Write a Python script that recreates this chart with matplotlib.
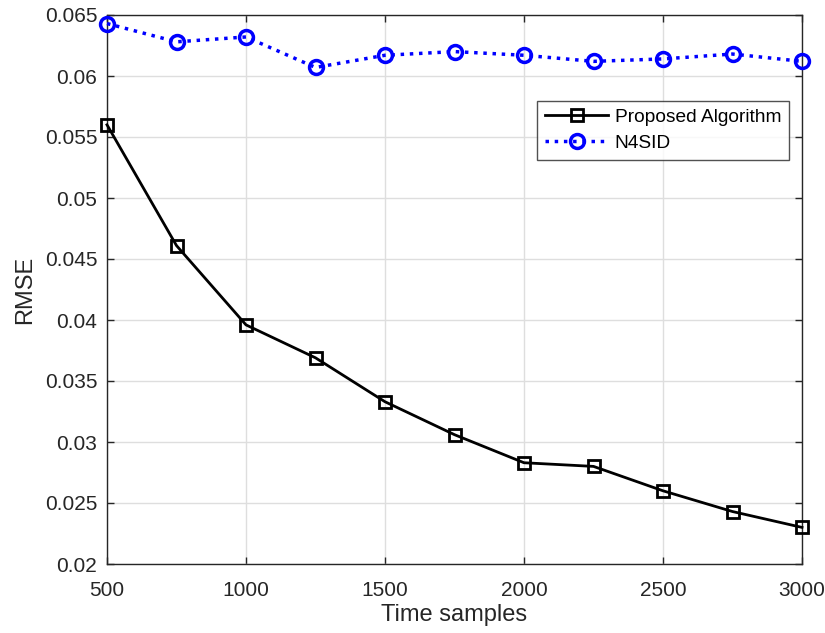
import matplotlib
matplotlib.use("Agg")
import matplotlib.pyplot as plt

plt.rcParams['font.family'] = ['Liberation Sans', 'DejaVu Sans']

samples = [500, 750, 1000, 1250, 1500, 1750, 2000, 2250, 2500, 2750, 3000]
rmse_proposed = [0.0560, 0.0461, 0.0396, 0.0369, 0.0333, 0.0306, 0.0283, 0.0280, 0.0260, 0.0243, 0.0230]
rmse_n4sid = [0.0643, 0.0628, 0.0632, 0.0607, 0.0617, 0.0620, 0.0617, 0.0612, 0.0614, 0.0618, 0.0612]

x_ticks = [500, 1000, 1500, 2000, 2500, 3000]
y_ticks = [0.02, 0.025, 0.03, 0.035, 0.04, 0.045, 0.05, 0.055, 0.06, 0.065]
y_labels = ['0.02', '0.025', '0.03', '0.035', '0.04', '0.045', '0.05', '0.055', '0.06', '0.065']

fig = plt.figure(figsize=(8.25, 6.33), dpi=100)
ax = fig.add_axes([107 / 825, 1 - 564 / 633, (802 - 107) / 825, (564 - 15) / 633])

ax.plot(samples, rmse_proposed, color='black', linestyle='-', linewidth=2,
        marker='s', markersize=8, markerfacecolor='none', markeredgewidth=2,
        label='Proposed Algorithm', clip_on=False, zorder=3)
ax.plot(samples, rmse_n4sid, color='blue', linestyle=':', linewidth=2.5,
        marker='o', markersize=10, markerfacecolor='none', markeredgewidth=2.5,
        label='N4SID', clip_on=False, zorder=3)

ax.set_xlim(500, 3000)
ax.set_ylim(0.02, 0.065)
ax.set_xticks(x_ticks)
ax.set_yticks(y_ticks)
ax.set_yticklabels(y_labels)

ax.grid(True, color='#dedede', linewidth=1)
ax.set_axisbelow(True)
for s in ax.spines.values():
    s.set_color('#262626')
    s.set_linewidth(1)
ax.tick_params(direction='in', top=True, right=True, length=5, width=1,
               colors='#262626', labelsize=15)
ax.tick_params(axis='x', pad=12)
ax.tick_params(axis='y', pad=7)

ax.set_xlabel('Time samples', fontsize=17, color='#262626', labelpad=3)
ax.set_ylabel('RMSE', fontsize=17, color='#262626', labelpad=6)

leg = ax.legend(loc='upper right', bbox_to_anchor=(789 / 825, 1 - 101 / 633),
                bbox_transform=fig.transFigure, fontsize=13.8, frameon=True,
                fancybox=False, edgecolor='#262626', handlelength=3.3,
                borderpad=0.4, labelspacing=0.45, handletextpad=0.35,
                borderaxespad=0)
leg.get_frame().set_linewidth(1)

fig.savefig('out.png', dpi=100)
